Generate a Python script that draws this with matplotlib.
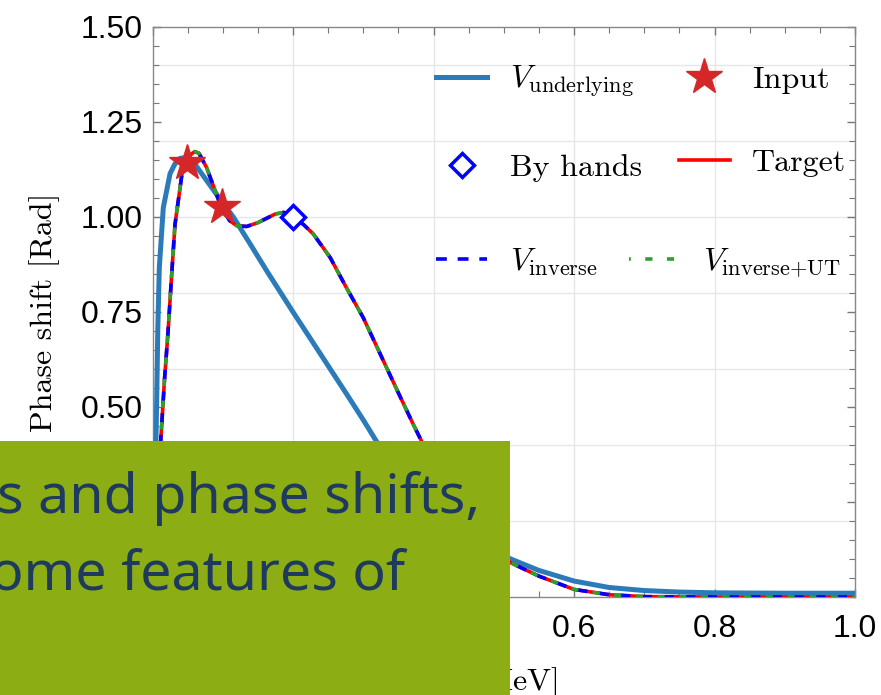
import matplotlib.pyplot as plt
from matplotlib.ticker import MultipleLocator, FormatStrFormatter
from matplotlib.patches import Rectangle

plt.rcParams['mathtext.fontset'] = 'cm'

# underlying potential phase shift
E_under = [0, 0.003, 0.006, 0.0075, 0.0097, 0.0154, 0.025, 0.032, 0.039, 0.049, 0.06, 0.077,
           0.095, 0.115, 0.14, 0.163, 0.2, 0.229, 0.253, 0.276, 0.30, 0.319, 0.34, 0.36,
           0.40, 0.44, 0.48, 0.51, 0.55, 0.60, 0.65, 0.70, 0.75, 0.8, 0.9, 1.0]
phi_under = [0, 0.22, 0.52, 0.70, 0.867, 1.025, 1.114, 1.14, 1.154, 1.157, 1.14, 1.096,
             1.05, 1.0, 0.926, 0.857, 0.75, 0.668, 0.6, 0.535, 0.466, 0.409, 0.35, 0.30,
             0.225, 0.17, 0.128, 0.10, 0.07, 0.042, 0.025, 0.017, 0.013, 0.011, 0.01, 0.01]

# target phase shift (inverse results lie on top of it)
E_target = [0, 0.005, 0.0117, 0.017, 0.0222, 0.027, 0.032, 0.042, 0.049, 0.055, 0.06, 0.066,
            0.077, 0.088, 0.098, 0.11, 0.12, 0.134, 0.15, 0.163, 0.175, 0.187, 0.2,
            0.215, 0.229, 0.253, 0.276, 0.30, 0.324, 0.348, 0.371, 0.383,
            0.42, 0.45, 0.48, 0.51, 0.55, 0.6, 0.65, 0.7, 0.8, 0.9, 1.0]
phi_target = [0, 0.12, 0.41, 0.57, 0.70, 0.84, 0.98, 1.114, 1.145, 1.165, 1.172, 1.168,
              1.13, 1.075, 1.025, 0.99, 0.977, 0.975, 0.985, 0.997, 1.008, 1.012, 1.0,
              0.98, 0.955, 0.893, 0.814, 0.735, 0.64, 0.545, 0.455, 0.41,
              0.28, 0.19, 0.13, 0.09, 0.055, 0.02, 0.006, 0.001, 0, 0, 0]

E_input = [0.049, 0.099]
phi_input = [1.141, 1.025]
E_hand = [0.2]
phi_hand = [1.0]

box_lines = ["s and phase shifts,", "ome features of"]

fig = plt.figure(figsize=(8.81, 6.95), dpi=100)
ax = fig.add_axes([0.1731, 0.141, 0.7974, 0.8202])

l_under, = ax.plot(E_under, phi_under, color='#2b7bba', lw=3.6, zorder=3)
l_target, = ax.plot(E_target, phi_target, color='#ff0000', lw=2.6, zorder=4)
l_inv, = ax.plot(E_target, phi_target, color='#0000ff', lw=2.6, ls=(0, (3, 3)), zorder=5)
l_ut, = ax.plot(E_target, phi_target, color='#2ca02c', lw=2.6, ls=(1.5, (2, 4)), zorder=6)
l_in, = ax.plot(E_input, phi_input, ls='none', marker='*', ms=27, color='#d62728', zorder=7)
l_hand, = ax.plot(E_hand, phi_hand, ls='none', marker='D', ms=12, mfc='white', mec='#0000ff',
                  mew=2.5, zorder=7)

ax.set_xlim(0, 1.0)
ax.set_ylim(0, 1.5)
ax.xaxis.set_major_locator(MultipleLocator(0.2))
ax.xaxis.set_minor_locator(MultipleLocator(0.05))
ax.yaxis.set_major_locator(MultipleLocator(0.25))
ax.yaxis.set_minor_locator(MultipleLocator(0.05))
ax.xaxis.set_major_formatter(FormatStrFormatter('%.1f'))
ax.yaxis.set_major_formatter(FormatStrFormatter('%.2f'))
ax.tick_params(which='both', direction='in', top=True, right=True, color='#777777')
ax.tick_params(which='major', length=6, width=1)
ax.tick_params(which='minor', length=4, width=0.8)
ax.tick_params(axis='y', pad=7)
ax.tick_params(axis='x', pad=12)
for lab in ax.get_xticklabels() + ax.get_yticklabels():
    lab.set_fontfamily('Liberation Sans')
    lab.set_fontsize(23)
for sp in ax.spines.values():
    sp.set_color('#888888')
    sp.set_linewidth(1)

# grid every 0.2 in both directions
for g in [0.2, 0.4, 0.6, 0.8]:
    ax.axvline(g, color='#e6e6e6', lw=1, zorder=0)
for g in [0.2, 0.4, 0.6, 0.8, 1.0, 1.2, 1.4]:
    ax.axhline(g, color='#e6e6e6', lw=1, zorder=0)

ax.set_ylabel('Phase shift [Rad]', family='cmr10', fontsize=23, labelpad=15)
ax.set_xlabel(r'$E$ [MeV]', family='cmr10', fontsize=23)
ax.xaxis.label.set_va('baseline')
ax.xaxis.set_label_coords(0.493, -0.163)

# legend: first two rows, then the last row on its own
lprop = {'family': 'cmr10', 'size': 23}
leg1 = ax.legend([l_under, l_hand, l_in, l_target],
                 [r'$V_{\mathrm{underlying}}$', 'By hands', 'Input', 'Target'],
                 ncol=2, loc='upper left', bbox_to_anchor=(0.363, 0.985), frameon=False,
                 prop=lprop, labelspacing=1.7, handlelength=1.6, columnspacing=1.15,
                 handletextpad=0.7)
ax.add_artist(leg1)
ax.legend([l_inv, l_ut], [r'$V_{\mathrm{inverse}}$', r'$V_{\mathrm{inverse{+}UT}}$'],
          ncol=2, loc='upper left', bbox_to_anchor=(0.363, 0.6655), frameon=False,
          prop=lprop, handlelength=1.6, columnspacing=1.0, handletextpad=0.7)

# green overlay box with text
fig.patches.append(Rectangle((0, 0), 510 / 881, 1 - 441 / 695, transform=fig.transFigure,
                             facecolor='#8cae14', edgecolor='none', zorder=10))
fig.text(480 / 881, 1 - 513 / 695, box_lines[0], ha='right', va='baseline', fontsize=40,
         family='Noto Sans', color='#1e3a5f', zorder=11)
fig.text(405 / 881, 1 - 590 / 695, box_lines[1], ha='right', va='baseline', fontsize=40,
         family='Noto Sans', color='#1e3a5f', zorder=11)

fig.savefig('out.png', dpi=100)
